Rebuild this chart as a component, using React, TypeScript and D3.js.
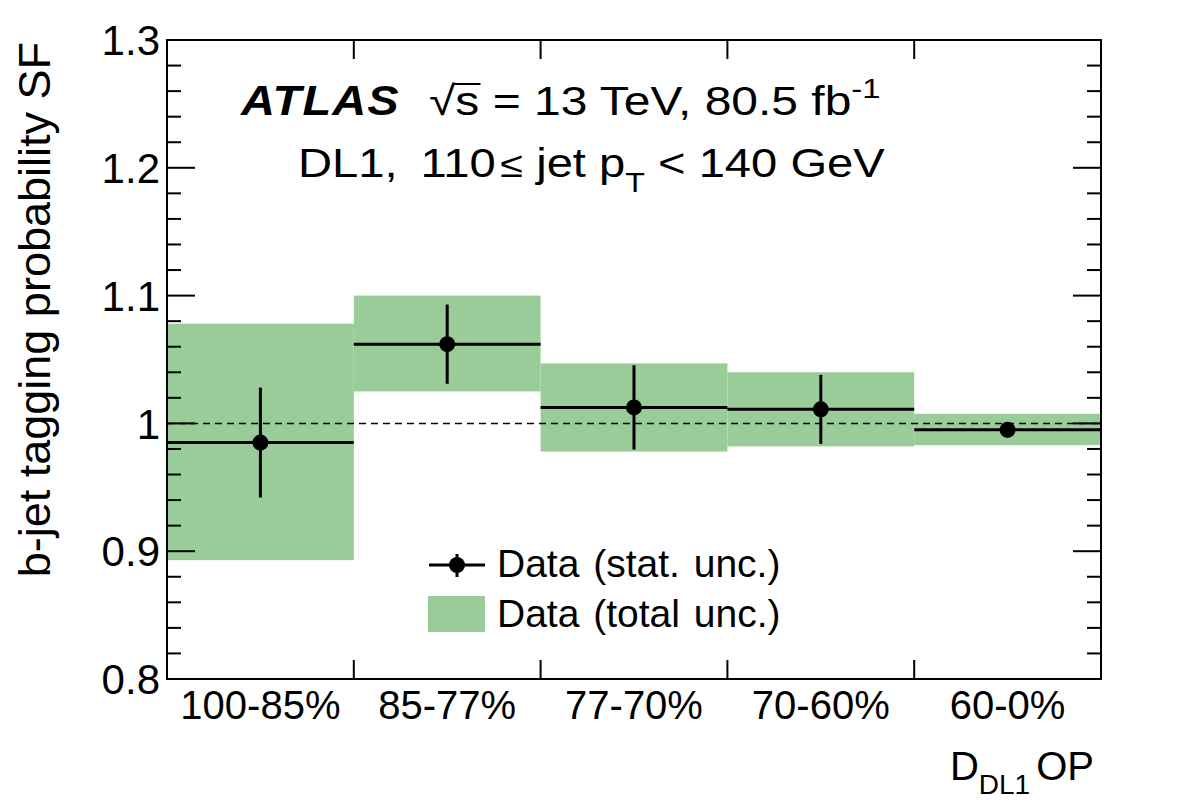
import { useEffect, useRef } from 'react';
import * as d3 from 'd3';

// operating point bins
const categories = ['100-85%', '85-77%', '77-70%', '70-60%', '60-0%'];
// scale factor per bin
const sfValues = [0.985, 1.062, 1.0125, 1.011, 0.995];
// statistical uncertainty (symmetric)
const statErr = [0.043, 0.031, 0.033, 0.027, 0.006];
// total uncertainty band edges
const totLow = [0.893, 1.025, 0.978, 0.982, 0.983];
const totHigh = [1.078, 1.1, 1.047, 1.04, 1.0075];
const yTicks = [0.8, 0.9, 1, 1.1, 1.2, 1.3];

const W = 1182;
const H = 809;
const frame = { left: 167, right: 1101, top: 40, bottom: 679 };
const FONT = '"Liberation Sans", Arial, Helvetica, sans-serif';
const GREEN = '#99cc99';

const App = () => {
  const svgRef = useRef<SVGSVGElement>(null);

  useEffect(() => {
    const svg = d3.select(svgRef.current);
    svg.selectAll('*').remove();
    svg.attr('width', W).attr('height', H).style('font-family', FONT);

    const x = d3.scaleBand<string>().domain(categories).range([frame.left, frame.right]).padding(0);
    const y = d3.scaleLinear().domain([0.8, 1.3]).range([frame.bottom, frame.top]);

    const rows = categories.map((c, i) => ({
      c, v: sfValues[i], e: statErr[i], lo: totLow[i], hi: totHigh[i],
    }));

    // total uncertainty boxes
    svg.append('g').selectAll('rect')
      .data(rows)
      .enter()
      .append('rect')
      .attr('x', d => x(d.c)!)
      .attr('width', x.bandwidth())
      .attr('y', d => y(d.hi))
      .attr('height', d => y(d.lo) - y(d.hi))
      .attr('fill', GREEN);

    // reference line at 1
    svg.append('line')
      .attr('x1', frame.left).attr('x2', frame.right)
      .attr('y1', y(1)).attr('y2', y(1))
      .attr('stroke', '#000').attr('stroke-width', 1.5)
      .attr('stroke-dasharray', '7,5');

    // data points with stat errors
    const pts = svg.append('g');
    pts.selectAll('.hbar').data(rows).enter().append('line')
      .attr('x1', d => x(d.c)!).attr('x2', d => x(d.c)! + x.bandwidth())
      .attr('y1', d => y(d.v)).attr('y2', d => y(d.v))
      .attr('stroke', '#000').attr('stroke-width', 3);
    pts.selectAll('.vbar').data(rows).enter().append('line')
      .attr('x1', d => x(d.c)! + x.bandwidth() / 2).attr('x2', d => x(d.c)! + x.bandwidth() / 2)
      .attr('y1', d => y(d.v + d.e)).attr('y2', d => y(d.v - d.e))
      .attr('stroke', '#000').attr('stroke-width', 3);
    pts.selectAll('circle').data(rows).enter().append('circle')
      .attr('cx', d => x(d.c)! + x.bandwidth() / 2)
      .attr('cy', d => y(d.v))
      .attr('r', 8)
      .attr('fill', '#000');

    // frame
    svg.append('rect')
      .attr('x', frame.left).attr('y', frame.top)
      .attr('width', frame.right - frame.left).attr('height', frame.bottom - frame.top)
      .attr('fill', 'none').attr('stroke', '#000').attr('stroke-width', 2);

    // y ticks, major and minor on both sides
    const minor = d3.range(0.8, 1.3001, 0.02);
    const ticks = svg.append('g').attr('stroke', '#000').attr('stroke-width', 2);
    minor.forEach(v => {
      const isMajor = yTicks.some(t => Math.abs(t - v) < 1e-6);
      const len = isMajor ? 28 : 14;
      ticks.append('line').attr('x1', frame.left).attr('x2', frame.left + len).attr('y1', y(v)).attr('y2', y(v));
      ticks.append('line').attr('x1', frame.right).attr('x2', frame.right - len).attr('y1', y(v)).attr('y2', y(v));
    });
    // x ticks at bin edges
    categories.slice(1).forEach(c => {
      const xx = x(c)!;
      ticks.append('line').attr('x1', xx).attr('x2', xx).attr('y1', frame.bottom).attr('y2', frame.bottom - 19);
      ticks.append('line').attr('x1', xx).attr('x2', xx).attr('y1', frame.top).attr('y2', frame.top + 19);
    });

    // y tick labels
    svg.append('g').selectAll('text').data(yTicks).enter().append('text')
      .attr('x', 160).attr('y', d => y(d)).attr('dy', '0.36em')
      .attr('text-anchor', 'end').attr('font-size', 42)
      .text(d => d3.format('~g')(d));

    // x tick labels
    svg.append('g').selectAll('text').data(categories).enter().append('text')
      .attr('x', d => x(d)! + x.bandwidth() / 2).attr('y', 719)
      .attr('text-anchor', 'middle').attr('font-size', 40)
      .text(d => d);

    // axis titles
    svg.append('text')
      .attr('transform', 'translate(50,42) rotate(-90)')
      .attr('text-anchor', 'end').attr('font-size', 45)
      .text('b-jet tagging probability SF');

    const xt = svg.append('text').attr('x', 1094).attr('y', 780)
      .attr('text-anchor', 'end').attr('font-size', 40);
    xt.append('tspan').text('D');
    xt.append('tspan').attr('font-size', 28).attr('dy', 14).text('DL1');
    xt.append('tspan').attr('dy', -14).attr('dx', 6).text('OP');

    // ATLAS label (the header text is drawn slightly widened, like the original)
    svg.append('g').attr('transform', 'translate(241,115) scale(1.12,1)')
      .append('text')
      .attr('font-size', 42).attr('font-weight', 'bold').attr('font-style', 'italic')
      .attr('letter-spacing', 1)
      .text('ATLAS');

    const g1 = svg.append('g').attr('transform', 'translate(429,115) scale(1.17,1)');
    const l1 = g1.append('text').attr('font-size', 41);
    l1.append('tspan').text('√');
    const sT = l1.append('tspan').text('s');
    l1.append('tspan').text(' = 13 TeV, 80.5 fb');
    l1.append('tspan').attr('font-size', 28).attr('dy', -17).text('-1');
    // overline for the root
    try {
      const bb = (sT.node() as SVGTSpanElement).getBBox();
      g1.append('line')
        .attr('x1', bb.x - 2).attr('x2', bb.x + bb.width + 1)
        .attr('y1', -31).attr('y2', -31)
        .attr('stroke', '#000').attr('stroke-width', 2);
    } catch (e) { /* ignore */ }

    const g2 = svg.append('g').attr('transform', 'translate(298,177) scale(1.15,1)');
    const l2 = g2.append('text').attr('font-size', 41);
    l2.append('tspan').text('DL1,');
    l2.append('tspan').attr('dx', 20).text('110');
    l2.append('tspan').attr('font-size', 36).attr('dx', 4).text('≤');
    l2.append('tspan').text(' jet p');
    l2.append('tspan').attr('font-size', 28).attr('dy', 15).text('T');
    l2.append('tspan').attr('dy', -15).text(' < 140 GeV');

    // legend
    const lg = svg.append('g');
    lg.append('line').attr('x1', 429).attr('x2', 485).attr('y1', 565).attr('y2', 565)
      .attr('stroke', '#000').attr('stroke-width', 3);
    lg.append('line').attr('x1', 457).attr('x2', 457).attr('y1', 554).attr('y2', 577)
      .attr('stroke', '#000').attr('stroke-width', 3);
    lg.append('circle').attr('cx', 457).attr('cy', 565).attr('r', 8).attr('fill', '#000');
    lg.append('text').attr('x', 497).attr('y', 577).attr('font-size', 39).attr('word-spacing', 3)
      .text('Data (stat. unc.)');
    lg.append('rect').attr('x', 428).attr('y', 596).attr('width', 57).attr('height', 36).attr('fill', GREEN);
    lg.append('text').attr('x', 497).attr('y', 627).attr('font-size', 39).attr('word-spacing', 3)
      .text('Data (total unc.)');
  }, []);

  return (
    <div style={{ position: 'absolute', left: 0, top: 0 }}>
      <svg ref={svgRef} style={{ display: 'block' }}></svg>
    </div>
  );
};

export default App;
